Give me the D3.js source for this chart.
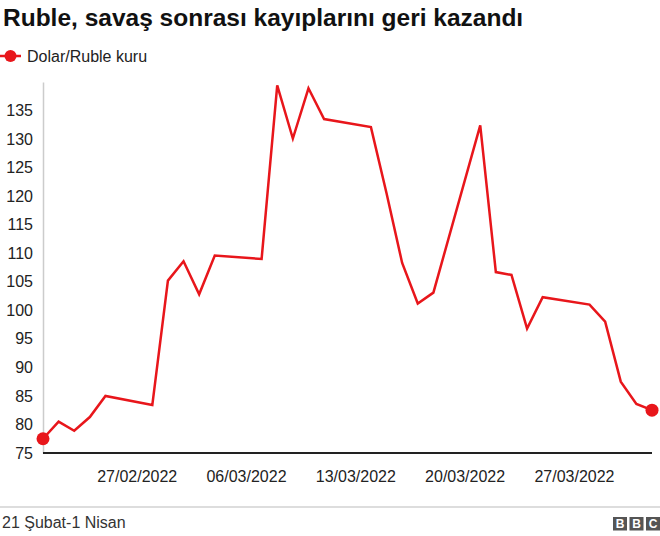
<!DOCTYPE html>
<html>
<head>
<meta charset="utf-8">
<script src="https://cdn.jsdelivr.net/npm/d3@7"></script>
<style>
  html, body { margin: 0; padding: 0; background: #fff; }
  svg { display: block; font-family: "Liberation Sans", Arial, Helvetica, sans-serif; }
</style>
</head>
<body>
<svg id="chart" width="660" height="536"></svg>
<script>
const titleText = "Ruble, savaş sonrası kayıplarını geri kazandı";
const seriesName = "Dolar/Ruble kuru";
const footerText = "21 Şubat-1 Nisan";

const dates = ["2022-02-21","2022-02-22","2022-02-23","2022-02-24","2022-02-25",
  "2022-02-28","2022-03-01","2022-03-02","2022-03-03","2022-03-04",
  "2022-03-07","2022-03-08","2022-03-09","2022-03-10","2022-03-11",
  "2022-03-14","2022-03-15","2022-03-16","2022-03-17","2022-03-18",
  "2022-03-21","2022-03-22","2022-03-23","2022-03-24","2022-03-25",
  "2022-03-28","2022-03-29","2022-03-30","2022-03-31","2022-04-01"];
const values = [77.5,80.5,78.9,81.3,85.0,
  83.4,105.2,108.6,102.8,109.6,
  109.0,139.4,130.1,138.9,133.5,
  132.1,120.5,108.3,101.2,103.1,
  132.4,106.7,106.2,96.8,102.3,
  101.0,98.0,87.5,83.6,82.5];
const yTicks = [75,80,85,90,95,100,105,110,115,120,125,130,135];
const xTicks = ["2022-02-27","2022-03-06","2022-03-13","2022-03-20","2022-03-27"];
const xDomain = ["2022-02-21","2022-04-01"];
const yDomain = [75, 140];

const red = "#e8161b";
const svg = d3.select("#chart");
const parse = d3.utcParse("%Y-%m-%d");
const fmt = d3.utcFormat("%d/%m/%Y");
const data = dates.map((d, i) => ({date: parse(d), value: values[i]}));

const x = d3.scaleUtc().domain(xDomain.map(parse)).range([43, 652]);
const y = d3.scaleLinear().domain(yDomain).range([453, 82]);

// Title
svg.append("text").attr("x", 3).attr("y", 26)
  .attr("font-size", 24.5).attr("font-weight", "bold").attr("fill", "#111")
  .text(titleText);

// Legend
const lg = svg.append("g");
lg.append("line").attr("x1", 0).attr("x2", 21).attr("y1", 56).attr("y2", 56)
  .attr("stroke", red).attr("stroke-width", 2.5);
lg.append("circle").attr("cx", 10.5).attr("cy", 56).attr("r", 6).attr("fill", red);
lg.append("text").attr("x", 27).attr("y", 61.5).attr("font-size", 16).attr("fill", "#222")
  .text(seriesName);

// Y axis
const yAxis = d3.axisLeft(y).tickValues(yTicks).tickSize(0).tickPadding(10);
const yg = svg.append("g").attr("transform", "translate(43,0)").call(yAxis);
yg.select(".domain").attr("stroke", "#cccccc").attr("stroke-width", 1.5);
yg.selectAll("text").attr("font-size", 16).attr("fill", "#222")
  .attr("font-family", "'Liberation Sans', Arial, sans-serif");

// X axis
const xAxis = d3.axisBottom(x).tickValues(xTicks.map(parse)).tickFormat(fmt).tickSize(0).tickPadding(18);
const xg = svg.append("g").attr("transform", "translate(0,453)").call(xAxis);
xg.select(".domain").remove();
xg.selectAll("text").attr("font-size", 16).attr("fill", "#222")
  .attr("font-family", "'Liberation Sans', Arial, sans-serif");

// Baseline
svg.append("line").attr("x1", x.range()[0]).attr("x2", x.range()[1])
  .attr("y1", y(yDomain[0])).attr("y2", y(yDomain[0]))
  .attr("stroke", "#222").attr("stroke-width", 2);

// Line
const line = d3.line().x(d => x(d.date)).y(d => y(d.value));
svg.append("path").datum(data).attr("d", line)
  .attr("fill", "none").attr("stroke", red).attr("stroke-width", 2.5)
  .attr("stroke-linejoin", "miter");

// End dots
svg.selectAll("circle.end").data([data[0], data[data.length - 1]]).enter()
  .append("circle").attr("class", "end")
  .attr("cx", d => x(d.date)).attr("cy", d => y(d.value)).attr("r", 6.5).attr("fill", red);

// Footer
svg.append("line").attr("x1", 0).attr("x2", 660).attr("y1", 507).attr("y2", 507)
  .attr("stroke", "#bbbbbb").attr("stroke-width", 1);
svg.append("text").attr("x", 2).attr("y", 528).attr("font-size", 16).attr("fill", "#333")
  .text(footerText);
const bbc = svg.append("g");
["B","B","C"].forEach((ch, i) => {
  const bx = 613 + i * 16.5;
  bbc.append("rect").attr("x", bx).attr("y", 517).attr("width", 14).attr("height", 13.5).attr("fill", "#555");
  bbc.append("text").attr("x", bx + 7).attr("y", 528).attr("text-anchor", "middle")
    .attr("font-size", 12).attr("font-weight", "bold").attr("fill", "#fff").text(ch);
});
</script>
</body>
</html>
